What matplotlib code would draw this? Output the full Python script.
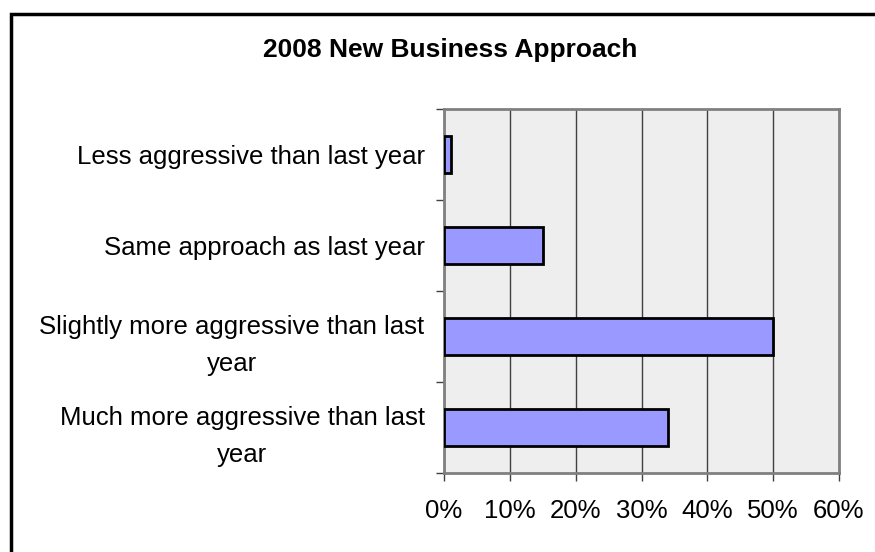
import matplotlib
matplotlib.use('Agg')
import matplotlib.pyplot as plt
from matplotlib.patches import Rectangle
import numpy as np

plt.rcParams['font.family'] = ['Liberation Sans', 'DejaVu Sans']

# respuestas de la encuesta, de arriba a abajo
categorias = ['Less aggressive than last year',
              'Same approach as last year',
              'Slightly more aggressive than last\nyear',
              'Much more aggressive than last\nyear']
porcentajes = [0.01, 0.15, 0.50, 0.34]
ticks_x = [0.0, 0.1, 0.2, 0.3, 0.4, 0.5, 0.6]
etiquetas_x = ['0%', '10%', '20%', '30%', '40%', '50%', '60%']

fig = plt.figure(figsize=(8.75, 5.52), dpi=100)
fig.patch.set_facecolor('white')

# marco negro alrededor del grafico
fig.patches.append(Rectangle((11/875, -0.1), 1.2, 1 - 14/552 + 0.1,
                             transform=fig.transFigure, fill=False,
                             edgecolor='black', linewidth=2.5, zorder=0))

ax = fig.add_axes([444/875, 1 - 473/552, (839 - 444)/875, (473 - 109)/552])
ax.set_facecolor('#EEEEEE')

y = np.arange(len(categorias))
ax.barh(y, porcentajes, height=0.4, color='#9999FF', edgecolor='black',
        linewidth=2, zorder=3)

ax.set_xlim(0, 0.6)
ax.set_ylim(len(categorias) - 0.5, -0.5)
ax.set_xticks(ticks_x)
ax.set_xticklabels(etiquetas_x, fontsize=18.5)
ax.set_yticks(y)
ax.set_yticklabels(categorias, fontsize=18.5, ha='right', multialignment='center',
                   linespacing=1.7)
ax.set_yticks(np.arange(len(categorias) + 1) - 0.5, minor=True)

ax.tick_params(axis='y', which='major', length=0, pad=14)
ax.tick_params(axis='y', which='minor', length=6, width=1, color='#404040')
ax.tick_params(axis='x', length=6, width=1, color='#404040', pad=13)

ax.xaxis.grid(True, color='#404040', linewidth=1, zorder=0)
ax.set_axisbelow(True)
for s in ax.spines.values():
    s.set_color('#808080')
    s.set_linewidth(2)

fig.text(450/875, 1 - 50/552, '2008 New Business Approach', ha='center',
         va='center', fontsize=19, fontweight='bold')

fig.savefig('out.png', dpi=100)
